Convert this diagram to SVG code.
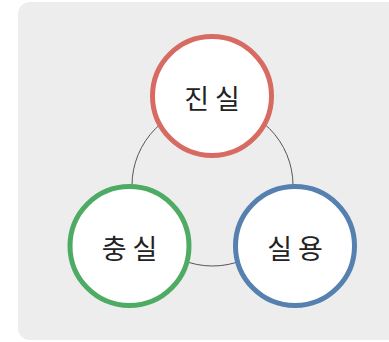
<svg xmlns="http://www.w3.org/2000/svg" width="389" height="342" viewBox="0 0 389 342">
<style>
.node circle{fill:#ffffff;stroke-width:5}
.node text{font-family:"Noto Sans CJK KR","Noto Sans",sans-serif;font-size:27px;font-weight:400;fill:#222222;text-anchor:middle;dominant-baseline:central}
.conn{fill:none;stroke:#555;stroke-width:1}
</style>
<rect x="18" y="2" width="390" height="338" rx="12" fill="#ededed"/>
<g id="connectors">
<circle class="conn" cx="212.5" cy="185.5" r="80.5"/>
</g>
<g id="node-jinsil" class="node">
<circle cx="212" cy="96" r="59.5" stroke="#d76b61"/>
<text x="212" y="97">진 실</text>
</g>
<g id="node-chungsil" class="node">
<circle cx="129.5" cy="246" r="59.5" stroke="#4dab63"/>
<text x="129.5" y="247">충 실</text>
</g>
<g id="node-siryong" class="node">
<circle cx="295" cy="246" r="59.5" stroke="#5580b0"/>
<text x="295" y="247">실 용</text>
</g>
</svg>
